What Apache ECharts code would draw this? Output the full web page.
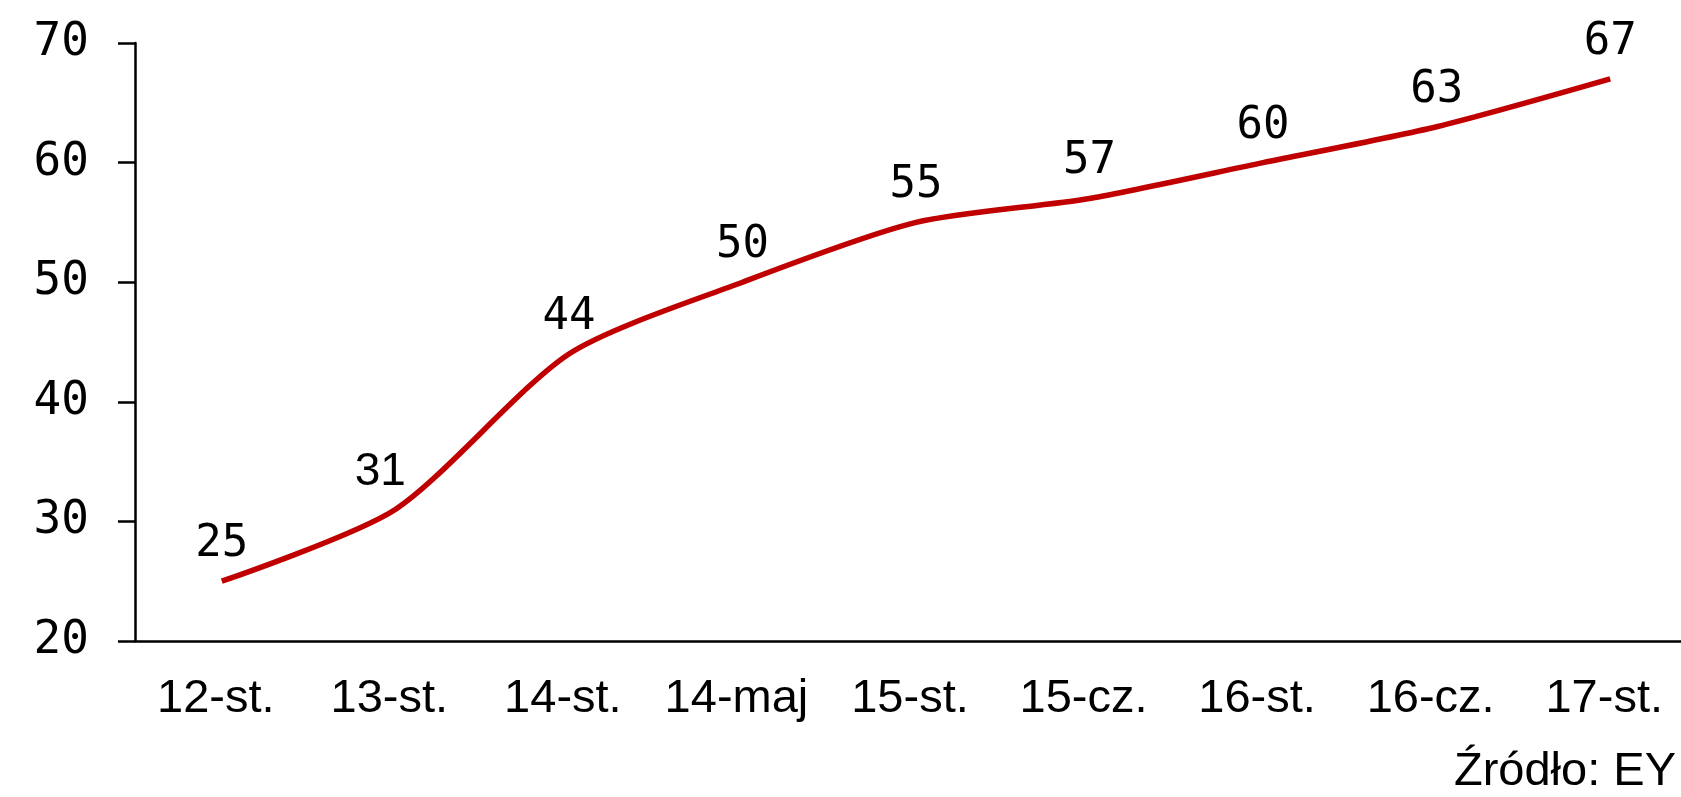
<!DOCTYPE html>
<html>
<head>
<meta charset="utf-8">
<title>Źródło: EY</title>
<script src="https://cdn.jsdelivr.net/npm/echarts@6/dist/echarts.min.js"></script>
<style>
  html, body { margin: 0; padding: 0; background: #fff; }
  #chart { width: 1681px; height: 797px; }
</style>
</head>
<body>
<div id="chart"></div>
<script>
// dane
var categories = ['12-st.', '13-st.', '14-st.', '14-maj', '15-st.', '15-cz.', '16-st.', '16-cz.', '17-st.'];
var values = [25, 31, 44, 50, 55, 57, 60, 63, 67];
var yTicks = [20, 30, 40, 50, 60, 70];

var chart = echarts.init(document.getElementById('chart'));

var monoFont = '"DejaVu Sans Mono", "Liberation Mono", monospace';
var sansFont = '"Liberation Sans", Arial, sans-serif';

// etykieta "31" jest w oryginale innym krojem i lekko przesunieta
var seriesData = values.map(function (v, i) {
  if (i === 1) {
    return {
      value: v,
      label: { fontFamily: sansFont, fontSize: 46, offset: [-15, 0] }
    };
  }
  return v;
});

var option = {
  animation: false,
  backgroundColor: '#fff',
  grid: {
    left: 135,
    top: 43,
    width: 1562,
    height: 598,
    outerBoundsMode: 'none'
  },
  xAxis: {
    type: 'category',
    data: categories,
    boundaryGap: true,
    axisLine: { lineStyle: { color: '#000', width: 2.5 } },
    axisTick: { show: false },
    axisLabel: {
      interval: 0,
      color: '#000',
      fontFamily: sansFont,
      fontSize: 47,
      margin: 35,
      padding: [0, 12, 0, 0]
    },
    splitLine: { show: false }
  },
  yAxis: {
    type: 'value',
    min: yTicks[0],
    max: yTicks[yTicks.length - 1],
    interval: 10,
    axisLine: { show: true, lineStyle: { color: '#000', width: 2.5 } },
    axisTick: { show: true, inside: false, length: 17, lineStyle: { color: '#000', width: 2.5 } },
    axisLabel: {
      color: '#000',
      fontFamily: monoFont,
      fontSize: 46,
      margin: 46
    },
    splitLine: { show: false }
  },
  series: [{
    type: 'line',
    data: seriesData,
    smooth: 0.25,
    symbol: 'circle',
    symbolSize: 1,
    showSymbol: true,
    itemStyle: { color: 'rgba(192,0,0,0)' },
    lineStyle: { color: '#C00000', width: 5.5 },
    label: {
      show: true,
      position: 'top',
      distance: 14,
      color: '#000',
      fontFamily: monoFont,
      fontSize: 44
    }
  }],
  graphic: [{
    type: 'text',
    right: 5,
    top: 749,
    style: {
      text: 'Źródło: EY',
      fill: '#000',
      font: '47px "Liberation Sans", Arial, sans-serif'
    }
  }]
};

chart.setOption(option);
</script>
</body>
</html>
